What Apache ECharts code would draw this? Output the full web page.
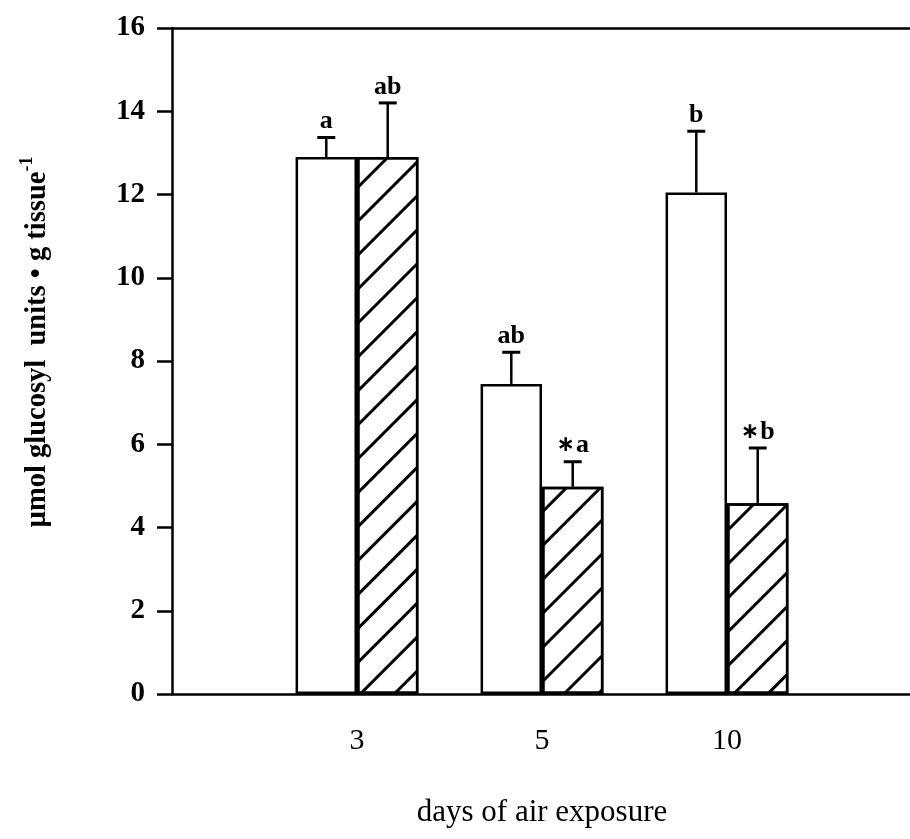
<!DOCTYPE html>
<html>
<head>
<meta charset="utf-8">
<title>Glucosyl units vs. days of air exposure</title>
<script src="https://cdn.jsdelivr.net/npm/echarts@6/dist/echarts.min.js"></script>
<style>
  html, body { margin: 0; padding: 0; background: #fff; }
  #chart { width: 910px; height: 839px; }
</style>
</head>
<body>
<div id="chart"></div>
<script>
// Days of air exposure (categories)
const days = ['3', '5', '10'];

// Open bars: mean and upper error (SE)
const openMeans = [12.9, 7.45, 12.05];
const openErrors = [0.47, 0.76, 1.47];
const openLetters = ['a', 'ab', 'b'];

// Hatched bars: mean and upper error (SE); '*' marks a significant difference
const hatchMeans = [12.9, 4.98, 4.58];
const hatchErrors = [1.3, 0.6, 1.33];
const hatchLetters = ['ab', '*a', '*b'];

// Y axis range and step
const yMin = 0, yMax = 16, yStep = 2;

const SERIF = '"Liberation Serif", "Times New Roman", serif';
const BAR_FRACTION = 0.332; // bar width as share of one category band

function letterText(label) {
  // render a leading '*' as a small centred star
  if (label.charAt(0) === '*') return '{star|\u2217}{t|' + label.slice(1) + '}';
  return '{t|' + label + '}';
}

function errorSeries(means, errors, letters, side) {
  return {
    type: 'custom',
    xAxisIndex: 2,
    yAxisIndex: 1,
    z: 5,
    data: means.map((m, i) => [i, m, m + errors[i]]),
    renderItem: function (params, api) {
      const band = api.size([1, 0])[0];
      const half = band * BAR_FRACTION / 2;
      const base = api.coord([api.value(0), api.value(1)]);
      const top = api.coord([api.value(0), api.value(2)]);
      const x = base[0] + side * half;
      const capHalf = 9;
      return {
        type: 'group',
        children: [
          { type: 'line', shape: { x1: x, y1: base[1], x2: x, y2: top[1] },
            style: { stroke: '#000', lineWidth: 2.5 } },
          { type: 'line', shape: { x1: x - capHalf, y1: top[1], x2: x + capHalf, y2: top[1] },
            style: { stroke: '#000', lineWidth: 3 } },
          { type: 'text', x: x, y: top[1] - 3,
            style: {
              text: letterText(letters[params.dataIndex]), fill: '#000',
              textAlign: 'center', textVerticalAlign: 'bottom',
              rich: {
                t: { fontSize: 26, fontWeight: 'bold', fontFamily: SERIF, lineHeight: 28, verticalAlign: 'bottom' },
                star: { fontSize: 22, fontWeight: 'bold', fontFamily: '"DejaVu Sans", sans-serif', lineHeight: 28, verticalAlign: 'bottom', padding: [0, 1, 2, 0] }
              }
            } }
        ]
      };
    }
  };
}

const chart = echarts.init(document.getElementById('chart'), null, { renderer: 'canvas' });

const option = {
  backgroundColor: '#fff',
  animation: false,
  textStyle: { fontFamily: SERIF, color: '#000' },
  grid: [
    { left: 172, right: 0, top: 28, bottom: 145 },
    { left: 264.5, right: 90.5, top: 28, bottom: 145 }
  ],
  xAxis: [
    { // bottom frame line
      gridIndex: 0, type: 'value', min: 0, max: 1, position: 'bottom',
      axisLine: { show: true, lineStyle: { color: '#000', width: 2.5 } },
      axisTick: { show: false }, axisLabel: { show: false }, splitLine: { show: false }
    },
    { // top frame line
      gridIndex: 0, type: 'value', min: 0, max: 1, position: 'top',
      axisLine: { show: true, lineStyle: { color: '#000', width: 2.5 } },
      axisTick: { show: false }, axisLabel: { show: false }, splitLine: { show: false }
    },
    { // day categories
      gridIndex: 1, type: 'category', data: days,
      axisLine: { show: false }, axisTick: { show: false },
      axisLabel: { margin: 32, fontSize: 30, fontFamily: SERIF, color: '#000' },
      name: 'days of air exposure', nameLocation: 'middle', nameGap: 103,
      nameTextStyle: { fontSize: 31, fontFamily: SERIF, color: '#000' }
    }
  ],
  yAxis: [
    {
      gridIndex: 0, type: 'value', min: yMin, max: yMax, interval: yStep,
      axisLine: { show: true, lineStyle: { color: '#000', width: 2.5 } },
      axisTick: { show: true, inside: false, length: 15, lineStyle: { color: '#000', width: 2.5 } },
      axisLabel: { margin: 27, fontSize: 29, fontWeight: 'bold', fontFamily: SERIF, color: '#000' },
      splitLine: { show: false }
    },
    {
      gridIndex: 1, type: 'value', min: yMin, max: yMax, interval: yStep, show: false
    }
  ],
  series: [
    {
      name: 'open', type: 'bar', xAxisIndex: 2, yAxisIndex: 1,
      barWidth: (BAR_FRACTION * 100) + '%', barGap: '0%',
      data: openMeans,
      itemStyle: { color: '#fff', borderColor: '#000', borderWidth: 2.5 }
    },
    {
      name: 'hatched', type: 'bar', xAxisIndex: 2, yAxisIndex: 1,
      barWidth: (BAR_FRACTION * 100) + '%', barGap: '0%',
      data: hatchMeans,
      itemStyle: {
        color: '#fff', borderColor: '#000', borderWidth: 2.5,
        decal: {
          symbol: 'rect', symbolSize: 1,
          dashArrayX: [1, 0], dashArrayY: [3, 21],
          rotation: -Math.PI / 4, color: '#000'
        }
      }
    },
    errorSeries(openMeans, openErrors, openLetters, -1),
    errorSeries(hatchMeans, hatchErrors, hatchLetters, 1)
  ],
  graphic: [
    {
      type: 'text', x: 35, y: 342, rotation: Math.PI / 2,
      style: {
        text: '{m|\u00b5mol glucosyl  units \u2022 g tissue}{s|-1}',
        textAlign: 'center', textVerticalAlign: 'middle', fill: '#000',
        rich: {
          m: { fontSize: 28.5, fontFamily: SERIF, fontWeight: 'bold', lineHeight: 34, verticalAlign: 'bottom' },
          s: { fontSize: 18, fontFamily: SERIF, fontWeight: 'bold', lineHeight: 34, verticalAlign: 'top' }
        }
      }
    }
  ]
};

chart.setOption(option);
</script>
</body>
</html>
